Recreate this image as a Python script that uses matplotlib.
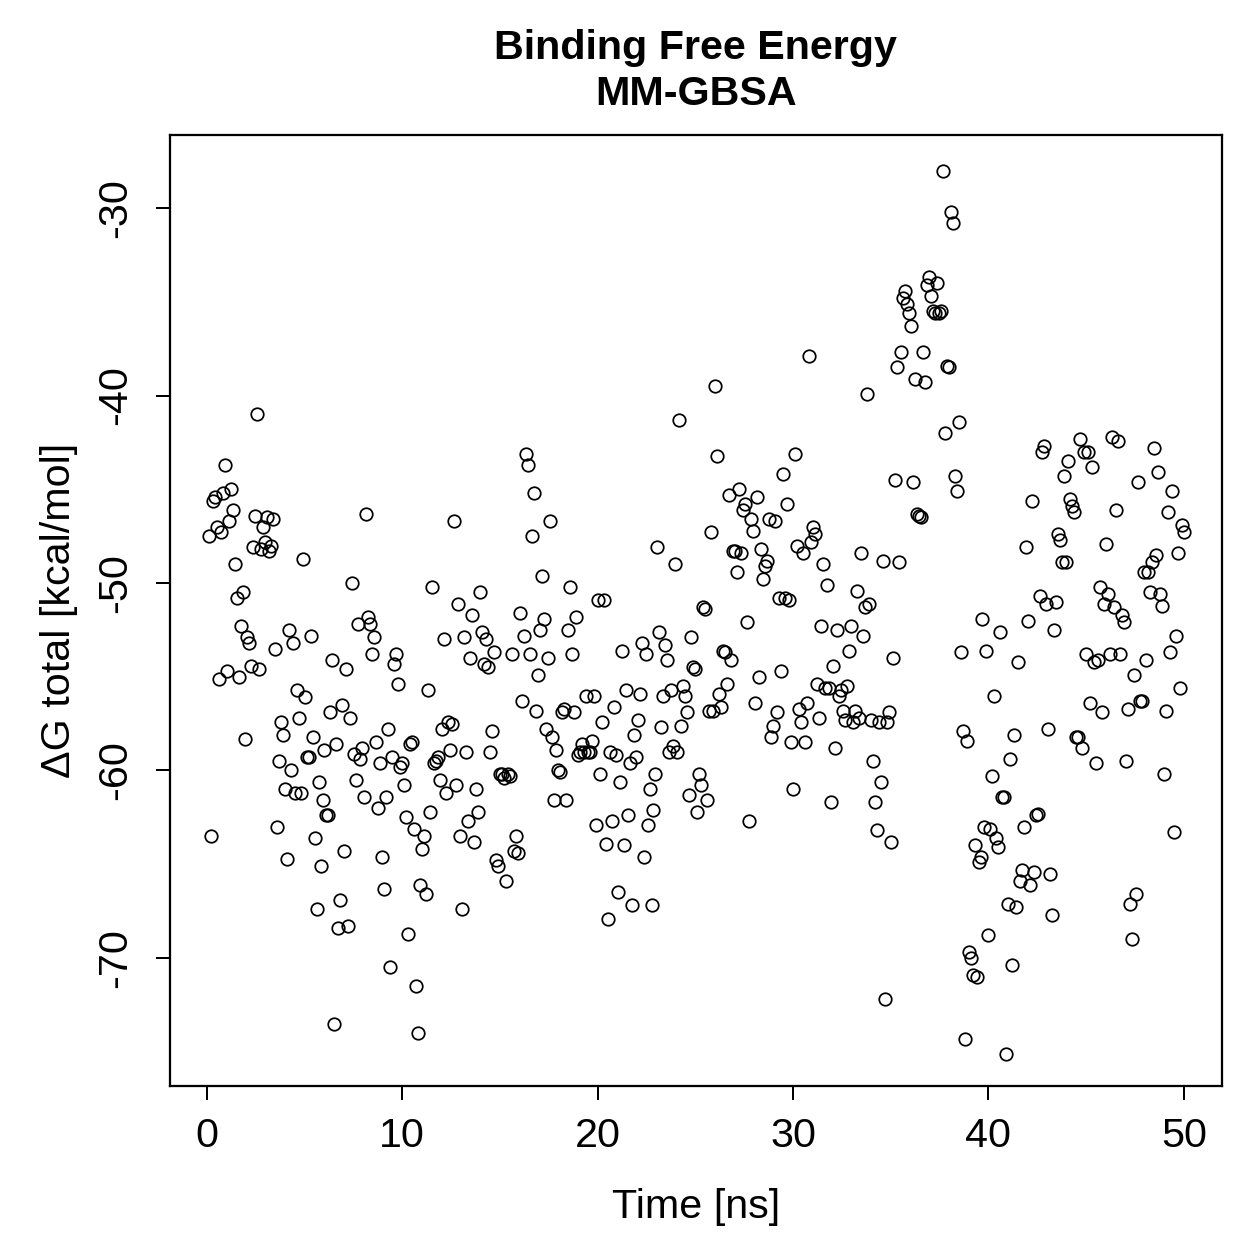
import numpy as np
import matplotlib
matplotlib.use("Agg")
import matplotlib.pyplot as plt

plt.rcParams['font.family'] = ['Liberation Sans', 'DejaVu Sans']
plt.rcParams['axes.unicode_minus'] = False

# delta G total per frame (kcal/mol), frames every ~0.1 ns
dg = [
    -47.5, -63.5, -45.6, -45.4, -47.0, -55.1, -47.3, -45.2, -43.7, -54.7,
    -46.7, -45.0, -46.1, -49.0, -50.8, -55.0, -52.3, -50.5, -58.3, -52.9,
    -53.2, -54.4, -48.1, -46.4, -41.0, -54.6, -48.2, -47.0, -47.8, -46.5,
    -48.3, -48.0, -46.6, -53.5,
    -63.0, -59.5, -57.4, -58.1, -61.0, -64.7, -52.5, -60.0, -53.2, -61.2,
    -55.7, -57.2, -61.2, -48.7, -56.1, -59.3, -59.3, -52.8, -58.2, -63.6,
    -67.4, -60.6, -65.1, -61.6, -58.9, -62.4,
    -62.4, -56.9, -54.1, -73.5, -58.6, -68.4, -66.9, -56.5, -64.3, -54.6,
    -68.3, -57.2, -50.0, -59.1, -60.5, -52.2, -59.4, -58.8, -61.4,
    -46.3, -51.8, -52.2, -53.8, -52.9, -58.5, -62.0, -59.6, -64.6, -66.3,
    -61.4, -57.8, -70.5, -59.3, -54.3, -53.8, -55.4, -59.8, -59.6, -60.8,
    -62.5, -68.7, -58.6, -58.5, -63.1, -71.5, -74.0, -66.1, -64.2, -63.5,
    -66.6, -55.7, -62.2, -50.2, -59.6, -59.5, -59.3, -60.5, -57.8, -53.0,
    -61.2, -57.4, -58.9, -57.5, -46.7, -60.8, -51.1, -63.5, -67.4, -52.9,
    -59.0, -62.7, -54.0, -51.7, -63.8, -61.0, -62.2, -50.5, -52.6, -54.3,
    -53.0, -54.5, -59.0, -57.9, -53.7, -64.8, -65.1, -60.2, -60.2, -60.4,
    -65.9, -60.2, -60.3, -53.8, -64.3, -63.5, -64.4, -51.6, -56.3, -52.8,
    -43.1, -43.7, -53.8, -47.5, -45.2, -56.8, -54.9, -52.5, -49.6, -51.9,
    -57.8, -54.0, -46.7, -58.2, -61.6, -58.9, -60.0, -60.1, -56.9, -56.7,
    -61.6, -52.5, -50.2, -53.8, -56.9, -51.8, -59.2, -59.0, -58.6, -59.0,
    -56.0, -59.0, -59.0, -58.4, -56.0, -62.9, -50.9, -60.2, -57.4, -50.9,
    -63.9, -67.9, -59.0, -62.7, -56.6, -59.2, -66.5, -60.6, -53.6, -64.0,
    -55.7, -62.4, -59.6, -67.2, -58.1, -59.3, -57.3, -55.9, -53.2, -64.6,
    -53.8, -62.9, -61.0, -67.2, -62.1, -60.2, -48.1, -52.6, -57.7, -56.0,
    -53.3, -54.1, -59.0, -55.7, -58.7, -49.0, -59.0, -41.3, -57.6, -55.5,
    -56.0, -56.9, -61.3, -52.9, -54.5, -54.6, -62.2, -60.2, -60.8, -51.3,
    -51.4, -61.6, -56.8, -47.3, -56.8, -39.5, -43.2, -55.9, -56.6, -53.6,
    -53.7, -55.4, -45.3, -54.1, -48.3, -48.3, -49.4, -45.0, -48.4, -46.1,
    -45.8, -52.1, -62.7, -46.6, -47.2, -56.4, -45.4, -55.0, -48.2, -49.8,
    -49.1, -48.8, -46.6, -58.2, -57.6, -46.7, -56.9, -50.8, -54.7, -44.2,
    -50.8, -45.8, -50.9, -58.5, -61.0, -43.1, -48.0, -56.7, -57.4, -48.4,
    -58.5, -56.4, -37.9, -47.8, -47.0, -47.4, -55.4, -57.2, -52.3, -49.0,
    -55.6, -50.1, -55.6, -61.7, -54.4, -58.8, -52.5, -56.0, -55.7, -56.8,
    -57.3, -55.5, -53.6, -52.3, -57.4, -56.8, -50.4, -57.2, -48.4, -52.8,
    -51.3, -39.9, -51.1, -57.3, -59.5, -61.7, -63.2, -57.4, -60.6, -48.8,
    -72.2, -57.4, -56.9, -63.8, -54.0, -44.5, -38.5, -48.9, -37.7, -34.8,
    -34.4, -35.1, -35.6, -36.3, -44.6, -39.1, -46.3, -46.4, -46.5, -37.7,
    -39.3, -34.1, -33.7, -34.7, -35.5, -35.6, -34.0, -35.6, -35.5, -28.0,
    -42.0, -38.4, -38.5, -30.2, -30.8, -44.3, -45.1, -41.4, -53.7, -57.9,
    -74.3, -58.4, -69.7, -70.0, -70.9, -64.0, -71.0, -64.9, -64.6, -51.9,
    -63.0, -53.6, -68.8, -63.1, -60.3, -56.0, -63.6, -64.1, -52.6, -61.4,
    -61.4, -75.1, -67.1, -59.4, -70.4, -58.1, -67.3, -54.2, -65.9, -65.3,
    -63.0, -48.1, -52.0, -66.1, -45.6, -65.4, -62.4, -62.3, -50.7, -43.0,
    -42.7, -51.1, -57.8, -65.5, -67.7, -52.5, -51.0, -47.4, -47.7, -48.9,
    -44.3, -48.9, -43.5, -45.5, -45.9, -46.2, -58.2, -58.2, -42.3, -58.8,
    -43.0, -53.8, -43.0, -56.4, -43.8, -54.2, -59.6, -54.1, -50.2, -56.9,
    -51.1, -47.9, -50.6, -53.8, -42.2, -51.3, -46.1, -42.4, -53.8, -51.7,
    -52.1, -59.5, -56.7, -67.1, -69.0, -54.9, -66.6, -44.6, -56.3, -56.3,
    -49.4, -54.1, -49.4, -50.5, -48.9, -42.8, -48.5, -44.1, -50.6, -51.2,
    -60.2, -56.8, -46.2, -53.7, -45.1, -63.3, -52.8, -48.4, -55.6, -46.9,
    -47.3,
]
# frames are evenly spaced in time from 0.1 to 50 ns
time_ns = np.linspace(0.1, 50.0, len(dg))

xticks = [0, 10, 20, 30, 40, 50]
yticks = [-30, -40, -50, -60, -70]

fig = plt.figure(figsize=(1259 / 180, 1259 / 180), dpi=180)
ax = fig.add_axes([0.135, 0.1374, 0.8356, 0.7554])

ax.plot(time_ns, dg, 'o', mfc='none', mec='black', ms=5.0, mew=0.7)

ax.set_xlim(-1.89, 51.95)
ax.set_ylim(-76.83, -26.1)
ax.set_xticks(xticks)
ax.set_yticks(yticks)
ax.tick_params(length=5.5, width=0.8, labelsize=16.5)
ax.tick_params(axis='x', pad=7)
ax.tick_params(axis='y', pad=9)
for lab in ax.get_yticklabels():
    lab.set_rotation(90)
    lab.set_va('center')
for s in ax.spines.values():
    s.set_linewidth(0.9)

ax.set_xlabel("Time [ns]", fontsize=16.5, labelpad=13)
ax.set_ylabel("ΔG total [kcal/mol]", fontsize=16.5, labelpad=7)
ax.set_title("Binding Free Energy\nMM-GBSA", fontsize=16.5, fontweight='bold', pad=12, linespacing=1.25)

fig.savefig("out.png", dpi=180)
